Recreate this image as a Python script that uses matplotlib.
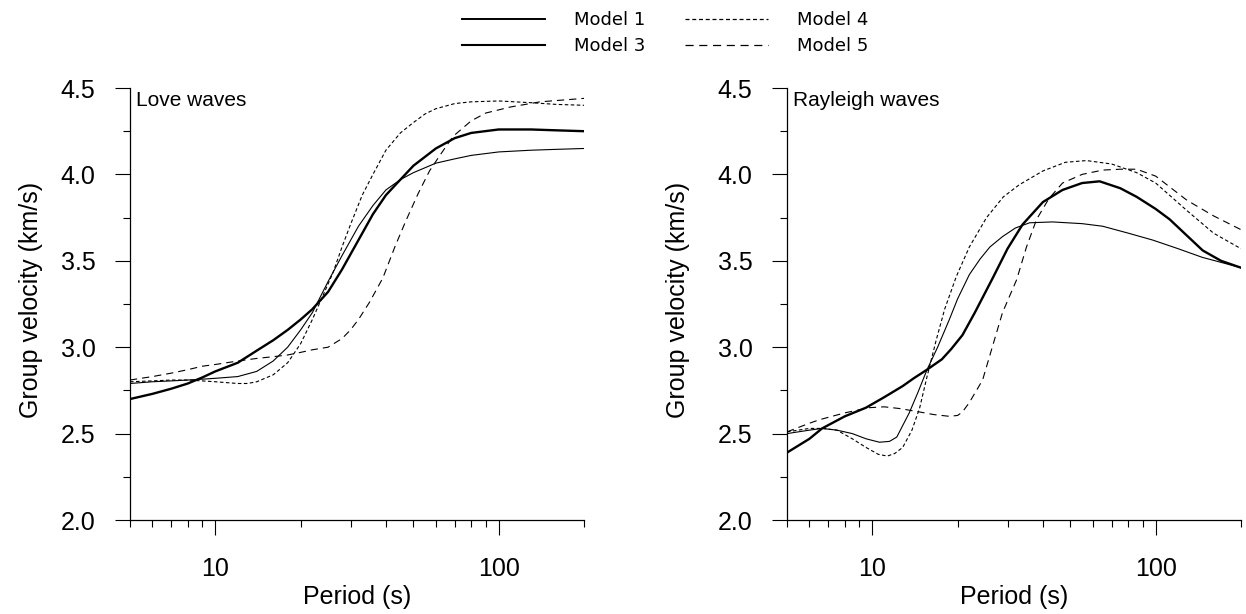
import matplotlib
matplotlib.use("Agg")
import matplotlib.pyplot as plt
from matplotlib.lines import Line2D
from matplotlib.ticker import FixedLocator, NullFormatter, FixedFormatter, MultipleLocator, FormatStrFormatter

plt.rcParams['font.family'] = ['Liberation Sans', 'DejaVu Sans']

# ---------------- data: Love waves ----------------
love_m1_p = [5, 6, 7, 8, 9, 10, 12, 14, 16, 18, 20, 22, 25, 28, 32, 36, 40, 45, 50, 60, 70, 80, 100, 130, 160, 200]
love_m1_v = [2.79, 2.80, 2.805, 2.81, 2.815, 2.82, 2.83, 2.86, 2.92, 3.00, 3.10, 3.20, 3.38, 3.53, 3.70, 3.82, 3.91, 3.97, 4.01, 4.065, 4.09, 4.11, 4.13, 4.14, 4.145, 4.15]

love_m3_p = [5, 6, 7, 8, 9, 10, 12, 14, 16, 18, 20, 22, 25, 28, 32, 36, 40, 45, 50, 60, 70, 80, 100, 130, 160, 200]
love_m3_v = [2.70, 2.73, 2.76, 2.79, 2.825, 2.86, 2.91, 2.98, 3.04, 3.10, 3.16, 3.22, 3.32, 3.45, 3.62, 3.77, 3.88, 3.97, 4.05, 4.15, 4.21, 4.24, 4.26, 4.26, 4.255, 4.25]

love_m4_p = [5, 6, 7, 8, 9, 10, 12, 13, 14, 16, 18, 20, 22, 24, 26, 28, 30, 33, 36, 40, 45, 50, 55, 60, 70, 80, 100, 130, 160, 200]
love_m4_v = [2.80, 2.805, 2.81, 2.81, 2.805, 2.80, 2.79, 2.79, 2.80, 2.84, 2.91, 3.02, 3.16, 3.30, 3.43, 3.58, 3.71, 3.88, 4.00, 4.14, 4.24, 4.30, 4.35, 4.38, 4.41, 4.42, 4.425, 4.415, 4.405, 4.40]

love_m5_p = [5, 6, 7, 8, 9, 10, 12, 14, 16, 18, 20, 22, 25, 28, 30, 32, 35, 39, 43, 47, 52, 57, 62, 69, 80, 90, 110, 140, 200]
love_m5_v = [2.81, 2.83, 2.85, 2.87, 2.89, 2.90, 2.92, 2.935, 2.945, 2.955, 2.97, 2.985, 3.00, 3.05, 3.10, 3.16, 3.26, 3.40, 3.58, 3.73, 3.89, 4.02, 4.11, 4.22, 4.31, 4.355, 4.39, 4.42, 4.44]

# ---------------- data: Rayleigh waves ----------------
ray_m1_p = [5, 6, 6.65, 7.5, 8.5, 9.5, 10.6, 11.5, 12.2, 13.5, 14.5, 15.6, 17, 18.7, 20, 22, 24, 26, 28.8, 32, 35.9, 43.2, 55, 65, 80, 97.6, 120, 146, 200]
ray_m1_v = [2.50, 2.52, 2.53, 2.52, 2.50, 2.47, 2.45, 2.455, 2.48, 2.62, 2.74, 2.87, 3.00, 3.16, 3.28, 3.42, 3.51, 3.58, 3.64, 3.69, 3.72, 3.725, 3.715, 3.70, 3.66, 3.62, 3.57, 3.52, 3.46]

ray_m3_p = [5, 6, 6.65, 8, 9.5, 11, 12.8, 14, 15.6, 17.6, 19, 20.8, 23, 26.6, 30, 33.9, 40, 46.9, 55, 63.4, 75, 85.7, 100, 112, 130, 146.5, 170, 200]
ray_m3_v = [2.39, 2.47, 2.53, 2.60, 2.65, 2.71, 2.775, 2.82, 2.87, 2.93, 2.99, 3.07, 3.20, 3.40, 3.57, 3.71, 3.84, 3.91, 3.95, 3.96, 3.92, 3.87, 3.80, 3.74, 3.64, 3.56, 3.50, 3.46]

ray_m4_p = [5, 6, 6.65, 7.5, 8.5, 9.5, 10.5, 11.3, 12, 12.8, 13.8, 14.7, 15.6, 16.8, 18, 19.8, 22, 25.3, 29, 33, 40, 48, 57, 70, 85.7, 100, 129, 160, 200]
ray_m4_v = [2.51, 2.53, 2.53, 2.52, 2.47, 2.42, 2.38, 2.37, 2.385, 2.42, 2.52, 2.65, 2.83, 3.04, 3.22, 3.41, 3.58, 3.75, 3.87, 3.94, 4.02, 4.07, 4.08, 4.06, 4.01, 3.95, 3.79, 3.66, 3.57]

ray_m5_p = [5, 6, 6.5, 8, 9.76, 11, 12.5, 14.7, 16.5, 18.7, 20, 20.8, 22, 24.5, 26.5, 28.8, 32.3, 35, 38, 42, 46.9, 55, 65, 75, 85.7, 100, 129, 160, 200]
ray_m5_v = [2.51, 2.56, 2.58, 2.62, 2.65, 2.655, 2.645, 2.625, 2.61, 2.60, 2.605, 2.625, 2.68, 2.81, 3.00, 3.20, 3.39, 3.58, 3.74, 3.86, 3.95, 4.00, 4.025, 4.03, 4.03, 3.99, 3.85, 3.76, 3.68]

model_labels = ["Model 1", "Model 3", "Model 4", "Model 5"]
panel_titles = ["Love waves", "Rayleigh waves"]
x_major = [10, 100]
x_major_labels = ["10", "100"]
x_minor = [5, 6, 7, 8, 9, 20, 30, 40, 50, 60, 70, 80, 90, 200]

styles = {
    "Model 1": dict(color="black", lw=0.8, ls="-"),
    "Model 3": dict(color="black", lw=1.7, ls="-"),
    "Model 4": dict(color="black", lw=0.8, ls=(0, (3.2, 2.2))),
    "Model 5": dict(color="black", lw=0.8, ls=(0, (6.5, 4.5))),
}
legend_lw = {"Model 1": 1.4, "Model 3": 1.5, "Model 4": 0.9, "Model 5": 0.9}

W, H = 1246, 614
fig = plt.figure(figsize=(W / 100, H / 100), dpi=100)
ax1 = fig.add_axes([130 / W, 1 - 520 / H, 454 / W, 432 / H])
ax2 = fig.add_axes([787 / W, 1 - 520 / H, 454 / W, 432 / H])

panels = [
    (ax1, [(love_m1_p, love_m1_v), (love_m3_p, love_m3_v), (love_m4_p, love_m4_v), (love_m5_p, love_m5_v)]),
    (ax2, [(ray_m1_p, ray_m1_v), (ray_m3_p, ray_m3_v), (ray_m4_p, ray_m4_v), (ray_m5_p, ray_m5_v)]),
]

label_x = [(43 - 130) / 454, (690 - 787) / 454]

for i, (ax, series) in enumerate(panels):
    for lab, (p, v) in zip(model_labels, series):
        ax.plot(p, v, **styles[lab])
    ax.set_xscale("log")
    ax.set_xlim(5, 200)
    ax.set_ylim(2.0, 4.5)
    ax.xaxis.set_major_locator(FixedLocator(x_major))
    ax.xaxis.set_major_formatter(FixedFormatter(x_major_labels))
    ax.xaxis.set_minor_locator(FixedLocator(x_minor))
    ax.xaxis.set_minor_formatter(NullFormatter())
    ax.yaxis.set_major_locator(MultipleLocator(0.5))
    ax.yaxis.set_minor_locator(MultipleLocator(0.25))
    ax.yaxis.set_major_formatter(FormatStrFormatter("%.1f"))
    for s in ("top", "right"):
        ax.spines[s].set_visible(False)
    for s in ("left", "bottom"):
        ax.spines[s].set_linewidth(0.9)
    ax.tick_params(axis="x", which="major", direction="out", length=10.8, width=0.8, pad=16, labelsize=18)
    ax.tick_params(axis="x", which="minor", direction="out", length=5.2, width=0.8)
    ax.tick_params(axis="y", which="major", direction="out", length=10.8, width=0.8, pad=14, labelsize=18)
    ax.tick_params(axis="y", which="minor", direction="out", length=5.0, width=0.8)
    ax.set_xlabel("Period (s)", fontsize=18)
    ax.set_ylabel("Group velocity (km/s)", fontsize=18)
    ax.xaxis.set_label_coords(0.5, -0.150)
    ax.yaxis.set_label_coords(label_x[i], 0.51)
    ax.annotate(panel_titles[i], xy=(0, 1), xycoords="axes fraction", xytext=(4, -2),
                textcoords="offset points", ha="left", va="top", fontsize=15)

handles = [Line2D([], [], color="black", ls=styles[lab]["ls"], lw=legend_lw[lab]) for lab in model_labels]
fig.legend(handles, model_labels, loc="upper left", bbox_to_anchor=(462 / W, 1 - 11 / H),
           ncol=2, frameon=False, borderpad=0, borderaxespad=0,
           handlelength=4.6, handletextpad=1.6, columnspacing=2.2, labelspacing=0.45,
           prop={"family": "DejaVu Sans", "size": 13})

fig.savefig("out.png", dpi=100)
